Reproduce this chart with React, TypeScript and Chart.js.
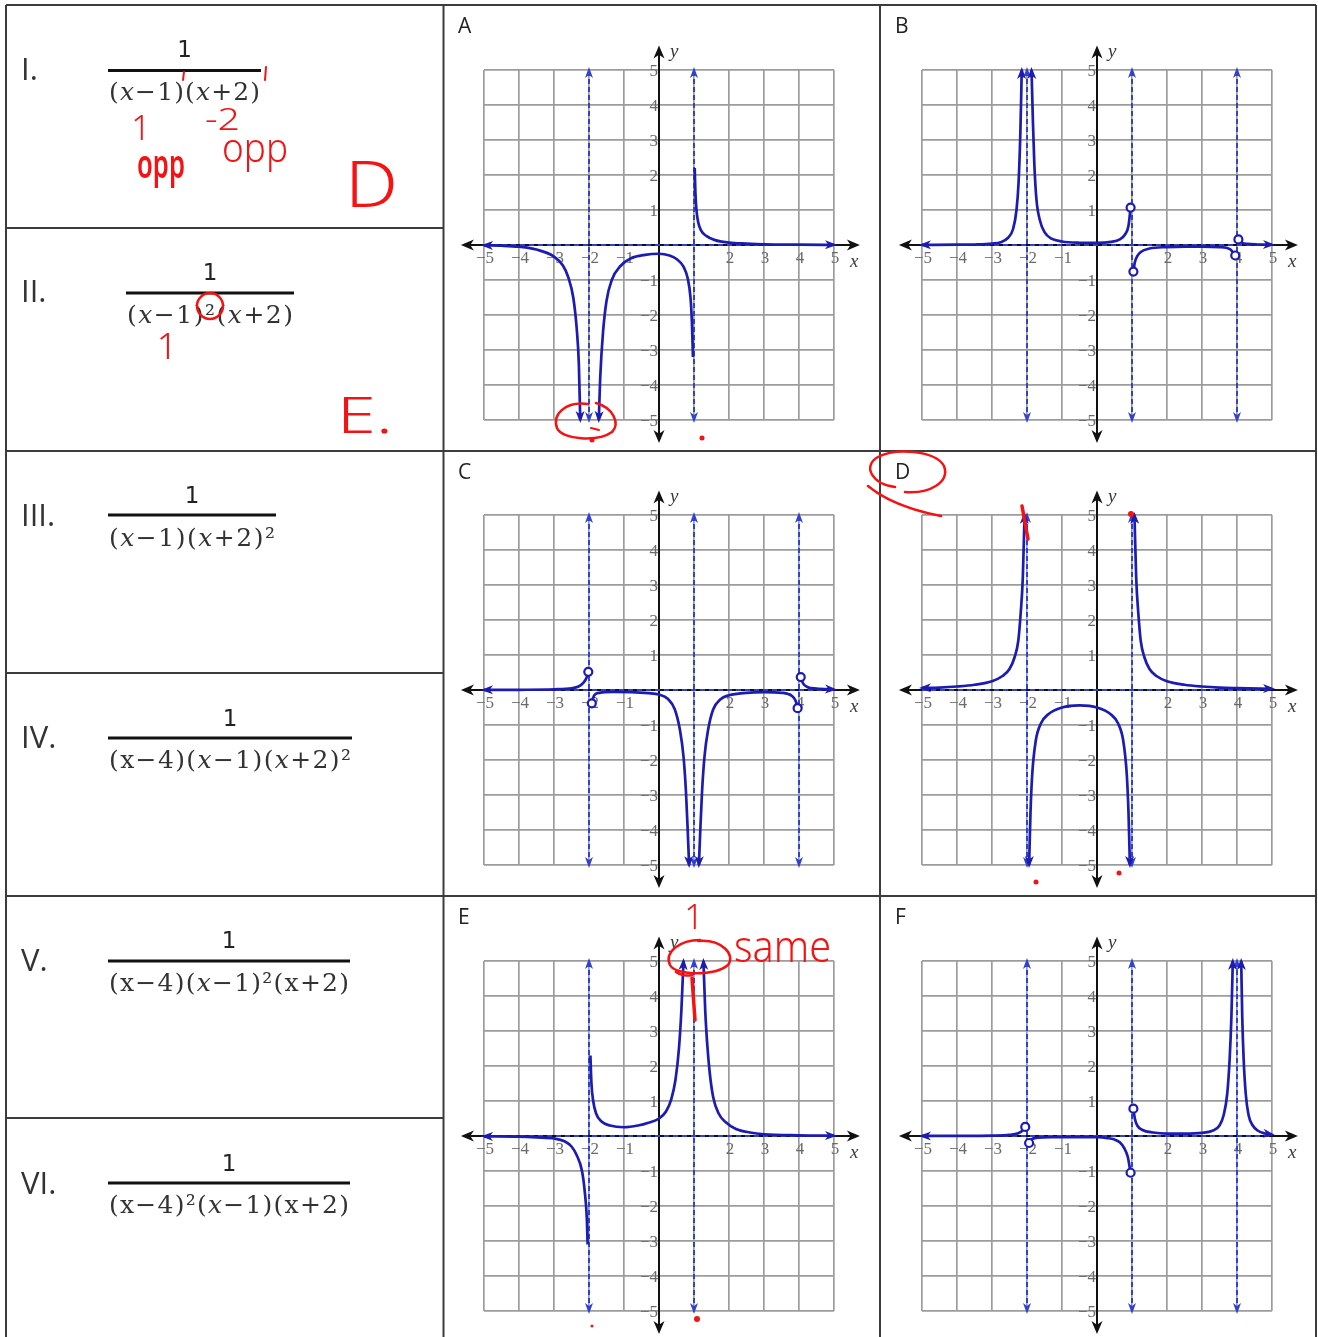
import React, { useEffect, useRef } from "react";
import { Chart, registerables } from "chart.js";

Chart.register(...registerables);

type XY = [number, number];

// ---------- Graph A ----------
const aLeft: XY[] = [[-5, -0.01], [-4.5, -0.02], [-4, -0.05], [-3.5, -0.13], [-3, -0.33], [-2.75, -0.58], [-2.6, -0.9], [-2.45, -1.5], [-2.35, -2.4], [-2.29, -3.4], [-2.25, -5]];
const aMiddle: XY[] = [[-1.72, -5], [-1.68, -3.8], [-1.6, -2.5], [-1.5, -1.6], [-1.35, -1.0], [-1.1, -0.6], [-0.8, -0.38], [-0.4, -0.28], [0, -0.25], [0.3, -0.3], [0.5, -0.4], [0.7, -0.62], [0.82, -0.95], [0.9, -1.5], [0.94, -2.2], [0.97, -3.2]];
const aRight: XY[] = [[1.02, 2.2], [1.04, 1.5], [1.07, 1.0], [1.12, 0.65], [1.2, 0.42], [1.35, 0.26], [1.6, 0.14], [2, 0.07], [2.5, 0.04], [3, 0.02], [4, 0.01], [5, 0.005]];
const aAsymptotes = [-2, 1];
const aHoles: XY[] = [];

// ---------- Graph B ----------
const bLeft: XY[] = [[-5, 0.003], [-4, 0.008], [-3.5, 0.015], [-3, 0.04], [-2.75, 0.08], [-2.55, 0.2], [-2.4, 0.45], [-2.3, 1.0], [-2.24, 1.8], [-2.19, 3.2], [-2.15, 5]];
const bMiddle: XY[] = [[-1.87, 5], [-1.83, 3.5], [-1.79, 2.3], [-1.73, 1.3], [-1.63, 0.7], [-1.5, 0.37], [-1.3, 0.18], [-1, 0.1], [-0.5, 0.065], [0, 0.06], [0.4, 0.09], [0.65, 0.16], [0.8, 0.3], [0.9, 0.55], [0.96, 1.07]];
const bRight: XY[] = [[1.04, -0.76], [1.08, -0.5], [1.15, -0.32], [1.25, -0.2], [1.5, -0.1], [2, -0.06], [2.5, -0.045], [3, -0.045], [3.5, -0.06], [3.8, -0.12], [3.95, -0.3]];
const bFar: XY[] = [[4.04, 0.16], [4.15, 0.06], [4.3, 0.03], [4.6, 0.015], [5, 0.008]];
const bAsymptotes = [-2, 1, 4];
const bHoles: XY[] = [[0.96, 1.07], [1.04, -0.76], [3.95, -0.3], [4.04, 0.16]];

// ---------- Graph C ----------
const cLeft: XY[] = [[-5, 0.003], [-4, 0.006], [-3, 0.02], [-2.5, 0.05], [-2.3, 0.1], [-2.15, 0.22], [-2.07, 0.35], [-2.02, 0.52]];
const cMiddle: XY[] = [[-1.92, -0.38], [-1.85, -0.15], [-1.7, -0.08], [-1.3, -0.055], [-0.8, -0.06], [-0.3, -0.09], [0, -0.13], [0.25, -0.25], [0.45, -0.55], [0.6, -1.15], [0.7, -1.9], [0.77, -2.9], [0.82, -4.0], [0.86, -5]];
const cRight: XY[] = [[1.14, -5], [1.18, -4.0], [1.23, -2.9], [1.3, -1.9], [1.4, -1.15], [1.55, -0.55], [1.75, -0.27], [2, -0.15], [2.5, -0.08], [3, -0.06], [3.5, -0.08], [3.8, -0.17], [3.9, -0.3], [3.96, -0.52]];
const cFar: XY[] = [[4.05, 0.37], [4.12, 0.18], [4.25, 0.08], [4.5, 0.04], [5, 0.015]];
const cAsymptotes = [-2, 1, 4];
const cHoles: XY[] = [[-2.02, 0.52], [-1.92, -0.38], [3.96, -0.52], [4.05, 0.37]];

// ---------- Graph D ----------
const dLeft: XY[] = [[-5, 0.06], [-4.5, 0.07], [-4, 0.1], [-3.5, 0.15], [-3, 0.25], [-2.7, 0.4], [-2.5, 0.6], [-2.35, 0.95], [-2.25, 1.4], [-2.18, 2.2], [-2.12, 3.2], [-2.07, 5]];
const dMiddle: XY[] = [[-1.94, -5], [-1.9, -3.5], [-1.85, -2.4], [-1.75, -1.45], [-1.6, -0.95], [-1.4, -0.7], [-1, -0.5], [-0.5, -0.44], [0, -0.5], [0.4, -0.7], [0.6, -0.95], [0.75, -1.45], [0.85, -2.4], [0.9, -3.5], [0.94, -5]];
const dRight: XY[] = [[1.07, 5], [1.12, 3.2], [1.18, 2.2], [1.25, 1.4], [1.35, 0.95], [1.5, 0.6], [1.7, 0.4], [2, 0.25], [2.5, 0.15], [3, 0.1], [3.5, 0.07], [4, 0.055], [5, 0.035]];
const dAsymptotes = [-2, 1];
const dHoles: XY[] = [];

// ---------- Graph E ----------
const eLeft: XY[] = [[-5, -0.01], [-4, -0.02], [-3.5, -0.04], [-3, -0.07], [-2.7, -0.15], [-2.5, -0.3], [-2.35, -0.55], [-2.2, -1.0], [-2.12, -1.6], [-2.06, -2.4], [-2.04, -3.1]];
const eMiddle: XY[] = [[-1.96, 2.3], [-1.93, 1.5], [-1.88, 1.0], [-1.8, 0.65], [-1.65, 0.42], [-1.4, 0.3], [-1, 0.25], [-0.6, 0.3], [-0.3, 0.38], [0, 0.5], [0.2, 0.7], [0.35, 1.05], [0.47, 1.6], [0.57, 2.5], [0.64, 3.6], [0.7, 5]];
const eRight: XY[] = [[1.27, 5], [1.32, 3.6], [1.38, 2.6], [1.45, 1.8], [1.55, 1.1], [1.7, 0.65], [1.9, 0.4], [2.2, 0.2], [2.6, 0.1], [3, 0.05], [4, 0.02], [5, 0.01]];
const eAsymptotes = [-2, 1];
const eHoles: XY[] = [];

// ---------- Graph F ----------
const fLeft: XY[] = [[-5, 0.002], [-4, 0.004], [-3, 0.01], [-2.5, 0.03], [-2.25, 0.08], [-2.12, 0.16], [-2.05, 0.26]];
const fMiddle: XY[] = [[-1.94, -0.2], [-1.88, -0.1], [-1.7, -0.05], [-1.2, -0.035], [-0.5, -0.03], [0, -0.035], [0.3, -0.06], [0.5, -0.1], [0.65, -0.18], [0.78, -0.35], [0.88, -0.6], [0.96, -1.05]];
const fRight: XY[] = [[1.04, 0.78], [1.08, 0.5], [1.15, 0.3], [1.3, 0.17], [1.6, 0.1], [2, 0.07], [2.5, 0.07], [3, 0.09], [3.3, 0.15], [3.5, 0.3], [3.62, 0.6], [3.72, 1.2], [3.79, 2.2], [3.84, 3.4], [3.88, 5]];
const fFar: XY[] = [[4.12, 5], [4.15, 3.4], [4.19, 2.2], [4.25, 1.2], [4.33, 0.6], [4.45, 0.3], [4.6, 0.15], [4.8, 0.07], [5, 0.04]];
const fAsymptotes = [-2, 1, 4];
const fHoles: XY[] = [[-2.05, 0.26], [-1.94, -0.2], [0.96, -1.05], [1.04, 0.78]];

// ---------- axis labels ----------
const xTickLabels = [-5, -4, -3, -2, -1, 2, 3, 4, 5];
const yTickLabels = [5, 4, 3, 2, 1, -1, -2, -3, -4, -5];
const axisXRange: [number, number] = [-5.66, 5.74];
const axisYRange: [number, number] = [-5.66, 5.7];

// ---------- formulas ----------
const formulaNumerals = ["I.", "II.", "III.", "IV.", "V.", "VI."];
const formulaNumerators = ["1", "1", "1", "1", "1", "1"];
// lower-case x is set in italic, upper-case X is an upright x
const formulaDenominators = [
  "(x−1)(x+2)",
  "(x−1)²(x+2)",
  "(x−1)(x+2)²",
  "(X−4)(x−1)(x+2)²",
  "(X−4)(x−1)²(X+2)",
  "(X−4)²(x−1)(X+2)",
];

const CURVE_BLUE = "rgb(28,28,178)";
const ASYM_BLUE = "rgb(48,66,212)";
const RED = "rgb(245,18,18)";

type Branch = { points: XY[]; arrows: [boolean, boolean] };
type PanelSpec = {
  letter: string;
  cell: [number, number];
  grid: [number, number, number, number]; // left, top, right, bottom
  branches: Branch[];
  asymptotes: number[];
  holes: XY[];
};

const CANVAS_W = 436;
const CANVAS_H = 444;

const panels: PanelSpec[] = [
  {
    letter: "A", cell: [444, 6], grid: [484, 70, 834, 420],
    branches: [
      { points: aLeft, arrows: [true, true] },
      { points: aMiddle, arrows: [true, false] },
      { points: aRight, arrows: [false, true] },
    ],
    asymptotes: aAsymptotes, holes: aHoles,
  },
  {
    letter: "B", cell: [881, 6], grid: [922, 70, 1272, 420],
    branches: [
      { points: bLeft, arrows: [true, true] },
      { points: bMiddle, arrows: [true, false] },
      { points: bRight, arrows: [false, false] },
      { points: bFar, arrows: [false, true] },
    ],
    asymptotes: bAsymptotes, holes: bHoles,
  },
  {
    letter: "C", cell: [444, 452], grid: [484, 515, 834, 865],
    branches: [
      { points: cLeft, arrows: [true, false] },
      { points: cMiddle, arrows: [false, true] },
      { points: cRight, arrows: [true, false] },
      { points: cFar, arrows: [false, true] },
    ],
    asymptotes: cAsymptotes, holes: cHoles,
  },
  {
    letter: "D", cell: [881, 452], grid: [922, 515, 1272, 865],
    branches: [
      { points: dLeft, arrows: [true, true] },
      { points: dMiddle, arrows: [true, true] },
      { points: dRight, arrows: [true, true] },
    ],
    asymptotes: dAsymptotes, holes: dHoles,
  },
  {
    letter: "E", cell: [444, 897], grid: [484, 961, 834, 1311],
    branches: [
      { points: eLeft, arrows: [true, false] },
      { points: eMiddle, arrows: [false, true] },
      { points: eRight, arrows: [true, true] },
    ],
    asymptotes: eAsymptotes, holes: eHoles,
  },
  {
    letter: "F", cell: [881, 897], grid: [922, 961, 1272, 1311],
    branches: [
      { points: fLeft, arrows: [true, false] },
      { points: fMiddle, arrows: [false, false] },
      { points: fRight, arrows: [false, true] },
      { points: fFar, arrows: [true, true] },
    ],
    asymptotes: fAsymptotes, holes: fHoles,
  },
];

const MINUS = "\u2212";
const fmt = (v: number) => (v < 0 ? MINUS + Math.abs(v) : String(v));

function arrowHead(ctx: CanvasRenderingContext2D, tx: number, ty: number, ux: number, uy: number, len: number, half: number, color: string) {
  const bx = tx - ux * len;
  const by = ty - uy * len;
  const nx = tx - ux * len * 0.72;
  const ny = ty - uy * len * 0.72;
  const px = -uy;
  const py = ux;
  ctx.beginPath();
  ctx.moveTo(tx, ty);
  ctx.lineTo(bx + px * half, by + py * half);
  ctx.lineTo(nx, ny);
  ctx.lineTo(bx - px * half, by - py * half);
  ctx.closePath();
  ctx.fillStyle = color;
  ctx.fill();
}

const graphDecor = {
  id: "graphDecor",
  beforeDatasetsDraw(chart: any) {
    const { ctx, scales } = chart;
    const xs = scales.x;
    const ys = scales.y;
    const x0 = xs.getPixelForValue(0);
    const y0 = ys.getPixelForValue(0);
    ctx.save();
    // tick numbers
    ctx.font = '17px "Liberation Serif", serif';
    ctx.fillStyle = "#6a6a6a";
    ctx.textBaseline = "middle";
    ctx.textAlign = "center";
    xTickLabels.forEach((v) => ctx.fillText(fmt(v), xs.getPixelForValue(v) + 1, y0 + 14));
    ctx.textAlign = "right";
    yTickLabels.forEach((v) => ctx.fillText(fmt(v), x0 - 1, ys.getPixelForValue(v) + 2));

    // black coordinate axes with arrow tips
    const xl = xs.getPixelForValue(axisXRange[0]);
    const xr = xs.getPixelForValue(axisXRange[1]);
    const yb = ys.getPixelForValue(axisYRange[0]);
    const yt = ys.getPixelForValue(axisYRange[1]);
    ctx.strokeStyle = "#111";
    ctx.lineWidth = 2;
    ctx.beginPath();
    ctx.moveTo(xl + 6, y0);
    ctx.lineTo(xr - 6, y0);
    ctx.moveTo(x0, yt + 6);
    ctx.lineTo(x0, yb - 6);
    ctx.stroke();
    arrowHead(ctx, xl, y0, -1, 0, 13, 5.5, "#111");
    arrowHead(ctx, xr, y0, 1, 0, 13, 5.5, "#111");
    arrowHead(ctx, x0, yt, 0, -1, 13, 5.5, "#111");
    arrowHead(ctx, x0, yb, 0, 1, 13, 5.5, "#111");

    // axis names
    ctx.font = 'italic 19px "Liberation Serif", serif';
    ctx.fillStyle = "#3a3a3a";
    ctx.textAlign = "left";
    ctx.textBaseline = "alphabetic";
    ctx.fillText("y", x0 + 11, chart.chartArea.top - 13);
    ctx.fillText("x", chart.chartArea.right + 16, y0 + 22);
    ctx.restore();
  },
  afterDatasetsDraw(chart: any) {
    const { ctx } = chart;
    ctx.save();
    chart.data.datasets.forEach((ds: any, i: number) => {
      if (!ds.arrows) return;
      const els = chart.getDatasetMeta(i).data;
      const n = els.length;
      if (n < 2) return;
      const ends: [any, any, boolean][] = [
        [els[0], els[1], ds.arrows[0]],
        [els[n - 1], els[n - 2], ds.arrows[1]],
      ];
      ends.forEach(([tip, prev, on]) => {
        if (!on) return;
        let dx = tip.x - prev.x;
        let dy = tip.y - prev.y;
        const d = Math.hypot(dx, dy) || 1;
        dx /= d;
        dy /= d;
        arrowHead(ctx, tip.x + dx * 3, tip.y + dy * 3, dx, dy, ds.arrowLen, ds.arrowHalf, ds.borderColor);
      });
    });
    ctx.restore();
  },
};

function buildConfig(p: PanelSpec): any {
  const toPts = (arr: XY[]) => arr.map(([x, y]) => ({ x, y }));
  const datasets: any[] = [];
  datasets.push({
    data: [{ x: -5, y: 0 }, { x: 5, y: 0 }],
    borderColor: ASYM_BLUE, borderWidth: 2, borderDash: [5, 4],
    pointRadius: 0, tension: 0, order: 3,
  });
  p.asymptotes.forEach((a) =>
    datasets.push({
      data: [{ x: a, y: -5 }, { x: a, y: 5 }],
      borderColor: ASYM_BLUE, borderWidth: 2, borderDash: [5, 3],
      pointRadius: 0, tension: 0, order: 2,
      arrows: [true, true], arrowLen: 11, arrowHalf: 4,
    })
  );
  p.branches.forEach((b) =>
    datasets.push({
      data: toPts(b.points),
      borderColor: CURVE_BLUE, borderWidth: 2.7,
      pointRadius: 0, cubicInterpolationMode: "monotone", order: 1,
      arrows: b.arrows, arrowLen: 12, arrowHalf: 4.5,
    })
  );
  if (p.holes.length) {
    datasets.push({
      data: toPts(p.holes),
      showLine: false, pointRadius: 4, pointBorderWidth: 2.2,
      pointBorderColor: CURVE_BLUE, pointBackgroundColor: "#ffffff", order: 0,
    });
  }
  const [cx, cy] = p.cell;
  const [gl, gt, gr, gb] = p.grid;
  const axis = {
    type: "linear", min: -5, max: 5,
    ticks: { stepSize: 1, display: false },
    grid: { color: "#9c9c9c", lineWidth: 1.7, drawTicks: false },
    border: { display: false },
  };
  return {
    type: "line",
    data: { datasets },
    options: {
      responsive: false,
      animation: false,
      events: [],
      clip: 10,
      layout: { padding: { left: gl - cx, top: gt - cy, right: cx + CANVAS_W - gr, bottom: cy + CANVAS_H - gb } },
      plugins: { legend: { display: false }, tooltip: { enabled: false } },
      scales: { x: { ...axis }, y: { ...axis } },
    },
    plugins: [graphDecor],
  };
}

function GraphPanel({ spec }: { spec: PanelSpec }) {
  const ref = useRef<HTMLCanvasElement>(null);
  useEffect(() => {
    const chart = new Chart(ref.current as HTMLCanvasElement, buildConfig(spec));
    return () => chart.destroy();
  }, [spec]);
  return (
    <canvas
      ref={ref}
      width={CANVAS_W}
      height={CANVAS_H}
      style={{ position: "absolute", left: spec.cell[0], top: spec.cell[1], width: CANVAS_W, height: CANVAS_H, display: "block" }}
    />
  );
}

// layout of the formula column: numeral baseline, fraction bar, numerator / denominator baselines
const formulaLayout = [
  { numeralY: 80, barX1: 108, barX2: 261, barY: 70.5, numY: 57, denY: 100 },
  { numeralY: 302, barX1: 126, barX2: 294, barY: 293, numY: 280, denY: 323 },
  { numeralY: 526, barX1: 108, barX2: 276, barY: 515, numY: 503, denY: 546 },
  { numeralY: 748, barX1: 108, barX2: 352, barY: 738, numY: 726, denY: 768 },
  { numeralY: 971, barX1: 108, barX2: 350, barY: 961, numY: 948, denY: 991 },
  { numeralY: 1194, barX1: 108, barX2: 350, barY: 1183, numY: 1171, denY: 1213 },
];

function denominatorSpans(s: string) {
  return s.split("").map((ch, i) => {
    if (ch === "x") return <tspan key={i} fontStyle="italic">x</tspan>;
    if (ch === "X") return <tspan key={i}>x</tspan>;
    return <tspan key={i}>{ch}</tspan>;
  });
}

const tableLines: [number, number, number, number][] = [
  [6, 5, 1316, 5],
  [6, 5, 6, 1345],
  [1316, 5, 1316, 1345],
  [443.5, 5, 443.5, 1345],
  [880, 5, 880, 1345],
  [6, 228, 443.5, 228],
  [6, 451, 1316, 451],
  [6, 673, 443.5, 673],
  [6, 896, 1316, 896],
  [6, 1118, 443.5, 1118],
];

export default function App() {
  const hand = { fill: RED, fontFamily: '"Noto Sans", sans-serif', fontWeight: 300 } as any;
  const stroke = { stroke: RED, strokeWidth: 3, fill: "none", strokeLinecap: "round" } as any;
  return (
    <div style={{ position: "absolute", left: 0, top: 0, width: 1318, height: 1337, overflow: "hidden", background: "#fff" }}>
      {panels.map((p) => (
        <GraphPanel key={p.letter} spec={p} />
      ))}
      <svg width={1318} height={1337} style={{ position: "absolute", left: 0, top: 0, pointerEvents: "none" }}>
        {tableLines.map(([x1, y1, x2, y2], i) => (
          <line key={i} x1={x1} y1={y1} x2={x2} y2={y2} stroke="#3c3c3c" strokeWidth={2} />
        ))}

        {panels.map((p) => (
          <text key={p.letter} x={p.cell[0] + 14} y={p.cell[1] + 27} fontFamily='"Open Sans", sans-serif' fontSize={21} fill="#222">
            {p.letter}
          </text>
        ))}

        {formulaLayout.map((f, i) => (
          <g key={i}>
            <text x={21} y={f.numeralY} fontFamily='"Open Sans", sans-serif' fontSize={31} fill="#333">
              {formulaNumerals[i]}
            </text>
            <text x={(f.barX1 + f.barX2) / 2} y={f.numY} textAnchor="middle" fontFamily='"DejaVu Sans", sans-serif' fontSize={23} fill="#222">
              {formulaNumerators[i]}
            </text>
            <line x1={f.barX1} y1={f.barY} x2={f.barX2} y2={f.barY} stroke="#111" strokeWidth={3} />
            <text
              x={f.barX1 + 1}
              y={f.denY}
              textLength={f.barX2 - f.barX1 - 2}
              lengthAdjust="spacing"
              fontFamily='"DejaVu Serif", serif'
              fontSize={25}
              fill="#333"
            >
              {denominatorSpans(formulaDenominators[i])}
            </text>
          </g>
        ))}

        {/* handwritten notes in row I */}
        <line x1={184} y1={72} x2={183} y2={80} {...stroke} strokeWidth={2} />
        <line x1={266} y1={67} x2={265} y2={80} {...stroke} strokeWidth={2} />
        <text x={141} y={140} textAnchor="middle" fontSize={34} {...hand}>1</text>
        <text x={205} y={130} fontSize={32} textLength={35} lengthAdjust="spacingAndGlyphs" {...hand}>-2</text>
        <text x={137} y={178} fontSize={40} textLength={48} lengthAdjust="spacingAndGlyphs" {...hand} fontWeight={600}>opp</text>
        <text x={222} y={162} fontSize={40} textLength={66} lengthAdjust="spacingAndGlyphs" {...hand}>opp</text>
        <text x={345} y={207} fontSize={64} textLength={53} lengthAdjust="spacingAndGlyphs" {...hand}>D</text>

        {/* handwritten notes in row II */}
        <ellipse cx={210} cy={306} rx={13} ry={13} {...stroke} strokeWidth={2.5} />
        <text x={167} y={359} textAnchor="middle" fontSize={36} {...hand}>1</text>
        <text x={337} y={433} fontSize={50} textLength={56} lengthAdjust="spacingAndGlyphs" {...hand}>E.</text>

        {/* notes on graph A */}
        <path d="M 588 404 C 566 401, 552 414, 557 428 C 562 440, 598 442, 612 432 C 620 424, 614 408, 596 403" {...stroke} strokeWidth={2.5} />
        <line x1={591} y1={428} x2={599} y2={430} {...stroke} strokeWidth={2} />
        <circle cx={592} cy={440} r={2.5} fill={RED} />
        <circle cx={702} cy={438} r={2.5} fill={RED} />

        {/* notes on graph D */}
        <path d="M 895 487 C 872 484, 862 466, 878 457 C 895 448, 935 450, 944 466 C 950 482, 930 494, 905 492" {...stroke} strokeWidth={2.5} />
        <path d="M 868 486 C 885 500, 910 510, 941 516" {...stroke} strokeWidth={2.5} />
        <line x1={1022} y1={506} x2={1028} y2={539} {...stroke} strokeWidth={3.5} />
        <circle cx={1131} cy={514} r={3} fill={RED} />
        <circle cx={1036} cy={882} r={2.5} fill={RED} />
        <circle cx={1119} cy={873} r={2.5} fill={RED} />

        {/* notes on graph E */}
        <text x={694} y={929} textAnchor="middle" fontSize={34} {...hand}>1</text>
        <path d="M 700 940 C 680 940, 664 952, 670 965 C 676 976, 715 976, 728 965 C 736 955, 722 939, 698 941" {...stroke} strokeWidth={2.5} />
        <path d="M 676 972 C 682 976, 688 976, 692 975" {...stroke} strokeWidth={2.5} />
        <line x1={692} y1={978} x2={695} y2={1020} {...stroke} strokeWidth={3.5} />
        <text x={734} y={962} fontSize={44} textLength={97} lengthAdjust="spacingAndGlyphs" {...hand}>same</text>
        <circle cx={697} cy={1319} r={3} fill={RED} />
        <circle cx={592} cy={1326} r={1.5} fill={RED} />
      </svg>
    </div>
  );
}
